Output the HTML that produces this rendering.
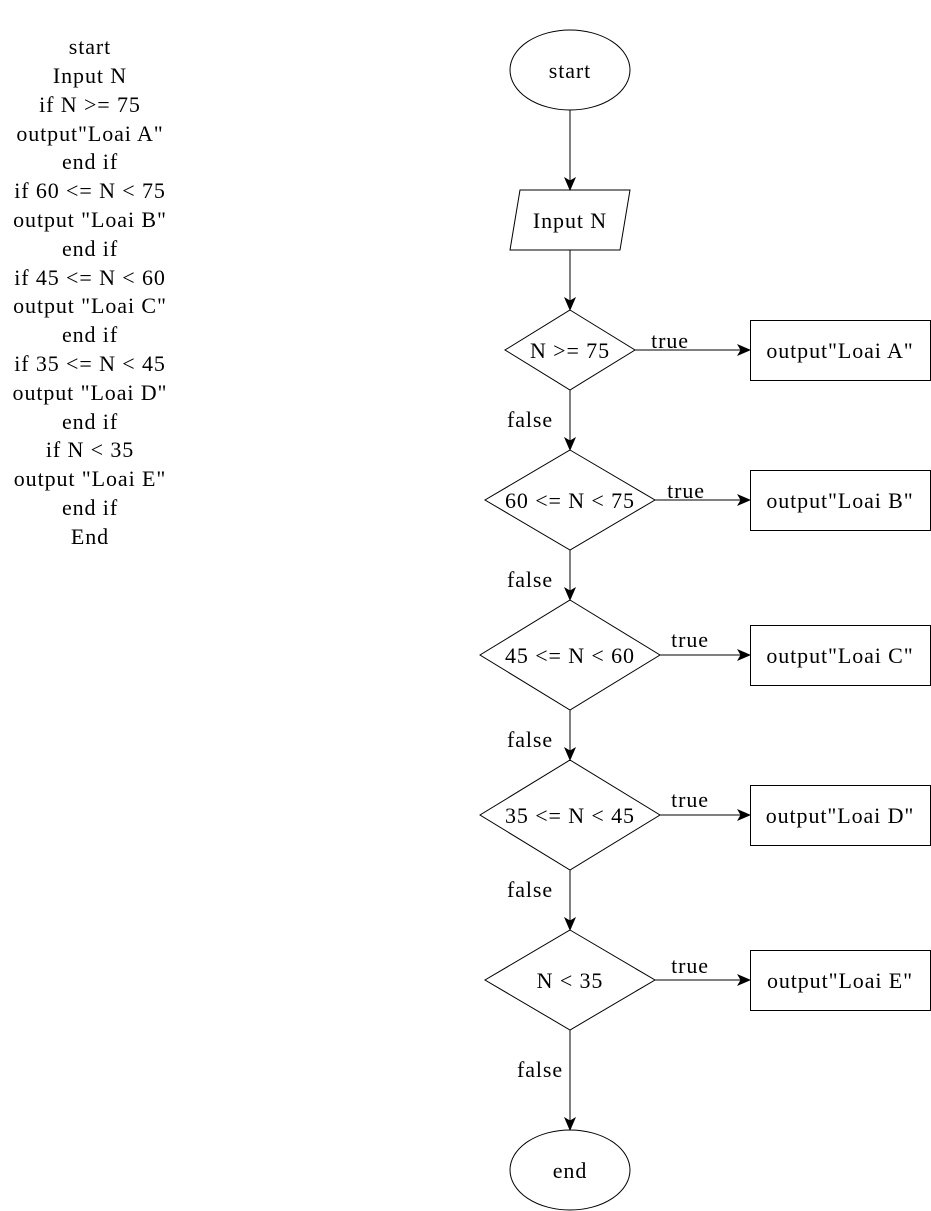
<!DOCTYPE html>
<html><head><meta charset="utf-8"><style>
html,body{margin:0;padding:0;background:#fff;}
svg{display:block;}
text{font-family:"Liberation Serif",serif;font-size:22px;letter-spacing:0.9px;fill:#000;}
</style></head><body>
<svg width="931" height="1211" viewBox="0 0 931 1211" xmlns="http://www.w3.org/2000/svg">
<defs><marker id="a" markerWidth="14" markerHeight="12" refX="13" refY="6" orient="auto" markerUnits="userSpaceOnUse"><path d="M0,0 L14,6 L0,12 L3.5,6 Z" fill="#000"/></marker></defs>
<g text-anchor="middle">
<text x="90" y="54">start</text>
<text x="90" y="83">Input N</text>
<text x="90" y="112">if N &gt;= 75</text>
<text x="90" y="141">output"Loai A"</text>
<text x="90" y="169">end if</text>
<text x="90" y="198">if 60 &lt;= N &lt; 75</text>
<text x="90" y="227">output "Loai B"</text>
<text x="90" y="256">end if</text>
<text x="90" y="285">if 45 &lt;= N &lt; 60</text>
<text x="90" y="313">output "Loai C"</text>
<text x="90" y="342">end if</text>
<text x="90" y="371">if 35 &lt;= N &lt; 45</text>
<text x="90" y="400">output "Loai D"</text>
<text x="90" y="429">end if</text>
<text x="90" y="457">if N &lt; 35</text>
<text x="90" y="486">output "Loai E"</text>
<text x="90" y="515">end if</text>
<text x="90" y="544">End</text>
</g>
<g fill="none" stroke="#000" stroke-width="1">
<ellipse cx="570" cy="70" rx="60" ry="40"/>
<polygon points="520,190 630,190 620,250 510,250"/>
<polygon points="570,310 635,350 570,390 505,350"/>
<polygon points="570,450 655,500 570,550 485,500"/>
<polygon points="570,600 660,655 570,710 480,655"/>
<polygon points="570,760 660,815 570,870 480,815"/>
<polygon points="570,930 655,980 570,1030 485,980"/>
<ellipse cx="570" cy="1170" rx="60" ry="40"/>
<rect x="750.5" y="320.5" width="180" height="60"/>
<rect x="750.5" y="470.5" width="180" height="60"/>
<rect x="750.5" y="625.5" width="180" height="60"/>
<rect x="750.5" y="785.5" width="180" height="60"/>
<rect x="750.5" y="950.5" width="180" height="60"/>
<g marker-end="url(#a)">
<line x1="570" y1="110" x2="570" y2="190"/>
<line x1="570" y1="250" x2="570" y2="310"/>
<line x1="570" y1="390" x2="570" y2="450"/>
<line x1="570" y1="550" x2="570" y2="600"/>
<line x1="570" y1="710" x2="570" y2="760"/>
<line x1="570" y1="870" x2="570" y2="930"/>
<line x1="570" y1="1030" x2="570" y2="1130"/>
<line x1="635" y1="350" x2="750" y2="350"/>
<line x1="655" y1="500" x2="750" y2="500"/>
<line x1="660" y1="655" x2="750" y2="655"/>
<line x1="660" y1="815" x2="750" y2="815"/>
<line x1="655" y1="980" x2="750" y2="980"/>
</g>
</g>
<g text-anchor="middle">
<text x="570" y="78">start</text>
<text x="570" y="228">Input N</text>
<text x="570" y="358">N &gt;= 75</text>
<text x="570" y="508">60 &lt;= N &lt; 75</text>
<text x="570" y="663">45 &lt;= N &lt; 60</text>
<text x="570" y="823">35 &lt;= N &lt; 45</text>
<text x="570" y="988">N &lt; 35</text>
<text x="570" y="1178">end</text>
<text x="840" y="358">output"Loai A"</text>
<text x="840" y="508">output"Loai B"</text>
<text x="840" y="663">output"Loai C"</text>
<text x="840" y="823">output"Loai D"</text>
<text x="840" y="988">output"Loai E"</text>
<text x="670" y="348">true</text>
<text x="686" y="498">true</text>
<text x="690" y="647">true</text>
<text x="690" y="807">true</text>
<text x="690" y="973">true</text>
<text x="530" y="427">false</text>
<text x="530" y="587">false</text>
<text x="530" y="747">false</text>
<text x="530" y="897">false</text>
<text x="540" y="1077">false</text>
</g>
</svg>
</body></html>
